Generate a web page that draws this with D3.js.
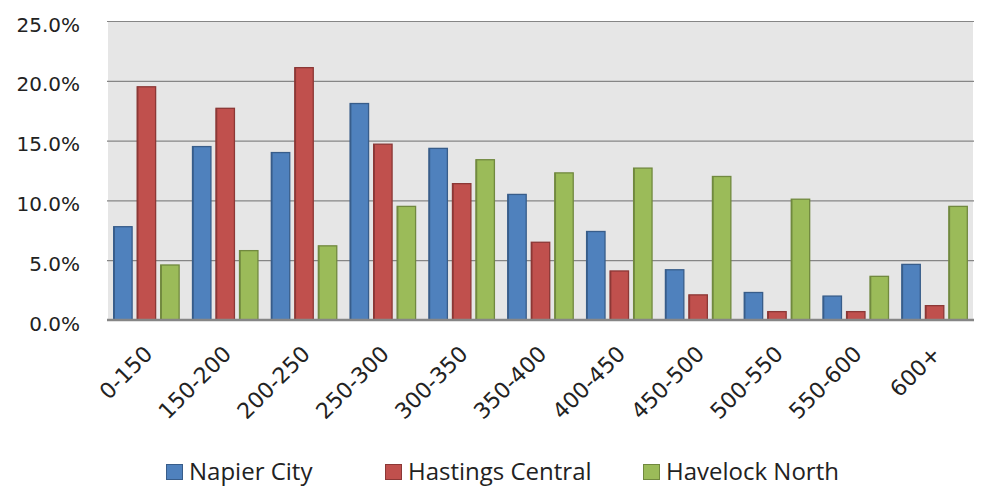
<!DOCTYPE html>
<html>
<head>
    <meta charset="utf-8">
    <title>Grouped Bar Chart</title>
    <style>
        body { margin: 0; background: #fff; }
    </style>
</head>
<body>
    <script src="https://cdnjs.cloudflare.com/ajax/libs/d3/7.9.0/d3.min.js"></script>
    <script>

        const categories = ["0-150", "150-200", "200-250", "250-300", "300-350", "350-400",
                            "400-450", "450-500", "500-550", "550-600", "600+"];
        const seriesNames = ["Napier City", "Hastings Central", "Havelock North"];
        const napier   = [7.8, 14.5, 14.0, 18.1, 14.35, 10.5, 7.4, 4.2, 2.3, 2.0, 4.65];
        const hastings = [19.5, 17.7, 21.1, 14.7, 11.4, 6.5, 4.1, 2.1, 0.7, 0.7, 1.2];
        const havelock = [4.6, 5.8, 6.2, 9.5, 13.4, 12.3, 12.7, 12.0, 10.1, 3.65, 9.5];
        const yTicks = [0, 5, 10, 15, 20, 25];

        const fills   = ["#4F81BD", "#C0504D", "#9BBB59"];
        const strokes = ["#385D8A", "#8C3836", "#71893F"];

        const width = 981;
        const height = 486;
        const margin = {top: 21, right: 7, bottom: 166, left: 107};

        const svg = d3.select("body")
            .append("svg")
            .attr("width", width)
            .attr("height", height);

        const plotW = width - margin.left - margin.right;
        const plotH = height - margin.top - margin.bottom;

        const g = svg.append("g")
            .attr("transform", `translate(${margin.left},${margin.top})`);

        const x0 = d3.scaleBand()
            .domain(categories)
            .range([0, plotW])
            .paddingInner(0.157)
            .paddingOuter(0.0785);

        const x1 = d3.scaleBand()
            .domain(seriesNames)
            .range([0, x0.bandwidth()])
            .paddingInner(0.174);

        const y = d3.scaleLinear()
            .domain([0, 25])
            .range([plotH, 0]);

        // plot background
        g.append("rect")
            .attr("x", 1)
            .attr("y", 0)
            .attr("width", plotW - 2)
            .attr("height", plotH)
            .attr("fill", "#E6E6E6");

        // gridlines
        g.append("g")
            .attr("class", "grid")
            .call(d3.axisLeft(y).tickValues(yTicks.slice(1)).tickSize(-plotW).tickFormat(""))
            .call(s => s.select(".domain").remove())
            .selectAll("line")
            .attr("stroke", "#868686")
            .attr("stroke-width", 1.2);

        // y tick labels
        g.append("g")
            .call(d3.axisLeft(y).tickValues(yTicks).tickSize(0).tickPadding(27)
                .tickFormat(d => d.toFixed(1) + "%"))
            .call(s => s.select(".domain").remove())
            .selectAll("text")
            .attr("font-family", "DejaVu Sans")
            .attr("font-size", "20px")
            .attr("fill", "#222")
            .attr("dy", "0.5em");

        const data = categories.map((c, i) => ({
            cat: c,
            vals: [napier[i], hastings[i], havelock[i]]
        }));

        const groups = g.selectAll(".grp")
            .data(data)
            .enter()
            .append("g")
            .attr("transform", d => `translate(${x0(d.cat)},0)`);

        groups.selectAll("rect")
            .data(d => d.vals.map((v, k) => ({name: seriesNames[k], v: v, k: k})))
            .enter()
            .append("rect")
            .attr("x", d => x1(d.name) + 0.5)
            .attr("y", d => y(d.v))
            .attr("width", x1.bandwidth() - 1)
            .attr("height", d => plotH - y(d.v))
            .attr("fill", d => fills[d.k])
            .attr("stroke", d => strokes[d.k])
            .attr("stroke-width", 1.3);

        // left shadow edge on each bar
        groups.selectAll("line.edge")
            .data(d => d.vals.map((v, k) => ({name: seriesNames[k], v: v, k: k})))
            .enter()
            .append("line")
            .attr("x1", d => x1(d.name) + 1)
            .attr("x2", d => x1(d.name) + 1)
            .attr("y1", d => y(d.v))
            .attr("y2", plotH)
            .attr("stroke", d => strokes[d.k])
            .attr("stroke-width", 1.5);

        // x baseline
        g.append("line")
            .attr("x1", 0)
            .attr("x2", plotW)
            .attr("y1", plotH)
            .attr("y2", plotH)
            .attr("stroke", "#868686")
            .attr("stroke-width", 2.5);

        // x labels, rotated
        const xAxis = g.append("g")
            .attr("transform", `translate(0,${plotH})`)
            .call(d3.axisBottom(x0).tickSize(0).tickPadding(0));
        xAxis.select(".domain").remove();
        xAxis.selectAll("text")
            .attr("font-family", "DejaVu Sans")
            .attr("font-size", "22px")
            .attr("fill", "#222")
            .attr("text-anchor", "end")
            .attr("dy", "0.35em")
            .attr("transform", "translate(2,30) rotate(-45)");

        // legend
        const legendX = [166, 385, 643];
        const legend = svg.append("g");
        seriesNames.forEach((name, k) => {
            legend.append("rect")
                .attr("x", legendX[k] + 0.5)
                .attr("y", 464.5)
                .attr("width", 16)
                .attr("height", 15)
                .attr("fill", fills[k])
                .attr("stroke", strokes[k])
                .attr("stroke-width", 1);
            legend.append("text")
                .attr("x", legendX[k] + 23)
                .attr("y", 479.5)
                .attr("font-family", "Open Sans")
                .attr("font-size", "24px")
                .attr("fill", "#222")
                .text(name);
        });

    </script>
</body>
</html>
